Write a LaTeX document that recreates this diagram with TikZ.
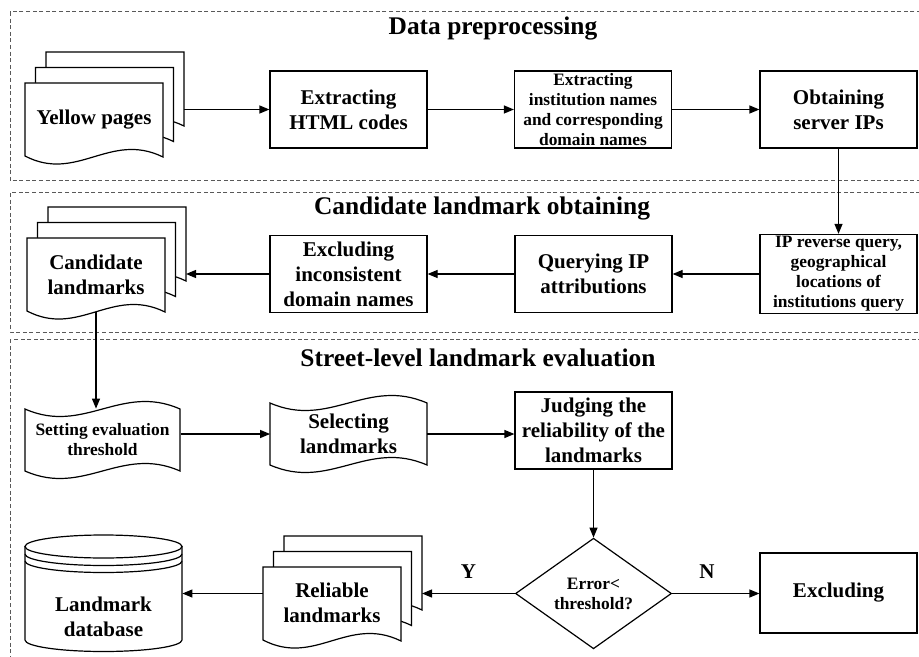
\documentclass[tikz,border=0pt]{standalone}
\usepackage{fontspec}
\setmainfont{Liberation Serif}
\usetikzlibrary{arrows.meta,shapes.geometric}

\newcommand{\stagefont}{\fontsize{12.7}{15}\selectfont\bfseries}
\newcommand{\boxfont}{\fontsize{10.5}{12.5}\selectfont\bfseries}
\newcommand{\smallboxfont}{\fontsize{8.7}{10}\selectfont\bfseries}

\tikzset{
    frame/.style={draw=black!65, line width=0.5pt, dash pattern=on 2pt off 1.3pt},
    stage/.style={font=\stagefont},
    page/.style={draw, fill=white, line width=0.6pt},
    box/.style={draw, fill=white, line width=0.6pt, minimum width=78.5pt,
        minimum height=38.5pt, inner sep=1pt, align=center, font=\boxfont},
    doc/.style={minimum width=69pt, minimum height=37pt, inner sep=1pt,
        align=center, font=\boxfont},
    tapetext/.style={minimum width=78pt, minimum height=31pt, inner sep=1pt,
        align=center, font=\boxfont},
    decision/.style={diamond, draw, fill=white, line width=0.6pt, minimum width=78pt,
        minimum height=38.5pt, inner sep=0pt, align=center, font=\smallboxfont},
    link/.style={line width=0.6pt},
}

% three stacked pages, front page top-left at (#2,#3)
\newcommand{\pagestack}[3]{%
    \foreach \k in {2,1,0}
        \draw[page, shift={(#2+10.5*\k,#3-15.5*\k)}] (0,0) -- (138,0) -- (138,74)
            .. controls (85,48) and (52,100) .. (0,73) -- cycle;
    \coordinate (#1-back) at (#2+159,#3-31);
}
% punched tape, top-left at (#1,#2), width #3
\newcommand{\tapeshape}[3]{%
    \draw[page, shift={(#1,#2)}] (0,0) .. controls (0.38*#3,26) and (0.62*#3,-26) .. (#3,0)
        -- (#3,62) .. controls (0.62*#3,36) and (0.38*#3,88) .. (0,62) -- cycle;
}

\begin{document}
\begin{tikzpicture}[x=0.5pt, y=-0.5pt, >={Triangle[length=5pt,width=4pt]}]
    \useasboundingbox (0,0) rectangle (919,657);
    \clip (0,0) rectangle (919,657);

    % stage frames
    \draw[frame] (10,12) rectangle (940,181);
    \draw[frame] (10,193) rectangle (940,332);
    \draw[frame] (10,339) rectangle (940,700);
    \node[stage] (s1) at (493,28) {Data preprocessing};
    \node[stage] (s2) at (482,208) {Candidate landmark obtaining};
    \node[stage] (s3) at (478,358) {Street-level landmark evaluation};

    % data preprocessing
    \pagestack{yp}{25}{83}
    \node[doc] (yp) at (94,120) {Yellow pages};
    \node[box] (html) at (348.5,109.5) {Extracting\\HTML codes};
    \node[box, font=\smallboxfont] (inst) at (593,109.5)
        {Extracting\\institution names\\and corresponding\\domain names};
    \node[box] (srv) at (838.5,109.5) {Obtaining\\server IPs};
    \draw[link,->] (html.west -| yp-back) -- (html.west);
    \draw[link,->] (html) -- (inst);
    \draw[link,->] (inst) -- (srv);

    % candidate landmarks
    \node[box, font=\smallboxfont] (rev) at (838.5,274)
        {IP reverse query,\\geographical\\locations of\\institutions query};
    \node[box] (attr) at (593.5,274) {Querying IP\\attributions};
    \node[box] (incons) at (348.5,274) {Excluding\\inconsistent\\domain names};
    \pagestack{cand}{27}{238}
    \node[doc] (cand) at (96,275) {Candidate\\landmarks};
    \draw[link,->] (srv) -- (rev);
    \draw[link,->] (rev) -- (attr);
    \draw[link,->] (attr) -- (incons);
    \draw[link,->] (incons.west) -- (incons.west -| cand-back);

    % street-level evaluation
    \tapeshape{25}{409}{155}
    \node[tapetext, font=\smallboxfont] (thr) at (102.5,440) {Setting evaluation\\threshold};
    \tapeshape{270}{403}{157}
    \node[tapetext] (sel) at (348.5,434) {Selecting\\landmarks};
    \node[box] (judge) at (593.5,430.5) {Judging the\\reliability of the\\landmarks};
    \node[decision] (err) at (593.5,593.5) {Error<\\threshold?};
    \node[box, minimum height=40pt] (drop) at (838.5,593) {Excluding};
    \pagestack{rel}{263}{567}
    \node[doc] (rel) at (332,603) {Reliable\\landmarks};

    % landmark database
    \draw[page] (25,546.5) -- (25,640)
        arc[start angle=180, end angle=0, x radius=78.5, y radius=11.5]
        -- (182,546.5) -- cycle;
    \draw[page] (103.5,546.5) ellipse[x radius=78.5, y radius=11.5];
    \draw[link] (25,554) arc[start angle=180, end angle=0, x radius=78.5, y radius=11.5];
    \draw[link] (25,561) arc[start angle=180, end angle=0, x radius=78.5, y radius=11.5];
    \node[doc, minimum width=78.5pt] (db) at (103.5,617) {Landmark\\database};

    \draw[link,->] (cand.south) -- (cand.south |- thr.north);
    \draw[link,->] (sel.west -| thr.east) -- (sel.west);
    \draw[link,->] (sel.east) -- (sel.east -| judge.west);
    \draw[link,->] (judge) -- (err);
    \draw[link,->] (err.east) -- node[above=4pt, pos=0.4, font=\boxfont] {N} (err.east -| drop.west);
    \draw[link,->] (err.west) -- node[above=4pt, font=\boxfont] {Y} (err.west -| rel-back);
    \draw[link,->] (err.west -| rel.west) -- (err.west -| db.east);
\end{tikzpicture}
\end{document}
